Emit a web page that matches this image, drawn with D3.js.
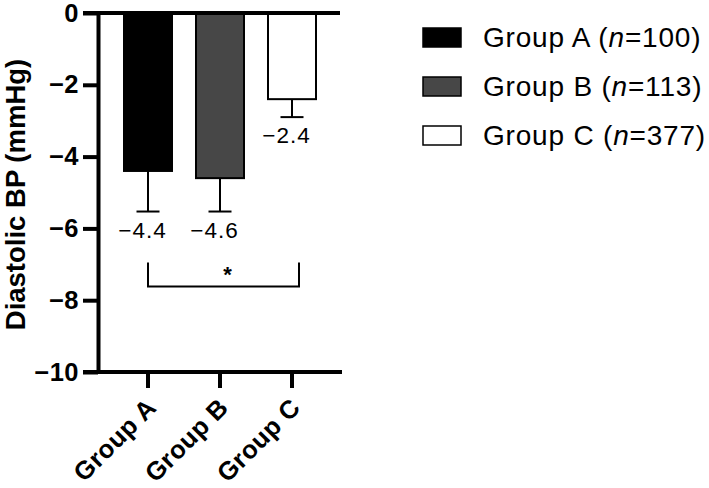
<!DOCTYPE html>
<html>
<head>
<meta charset="utf-8">
<script src="https://cdn.jsdelivr.net/npm/d3@7"></script>
<style>
  body { margin: 0; background: #fff; }
  svg { display: block; }
  text { font-family: "Liberation Sans", Arial, Helvetica, sans-serif; fill: #000; }
</style>
</head>
<body>
<div id="chart"></div>
<script>
const width = 709;
const height = 488;

// data
const groups = ["Group A", "Group B", "Group C"];
const means = [-4.4, -4.6, -2.4];
const errors = [1.13, 0.93, 0.5];
const sizes = [100, 113, 377];
const yTicks = [0, -2, -4, -6, -8, -10];

const colorScale = d3.scaleOrdinal()
    .domain(groups)
    .range(["#000000", "#474747", "#ffffff"]);

const svg = d3.select("#chart")
    .append("svg")
    .attr("width", width)
    .attr("height", height);

// scales
const xScale = d3.scaleBand()
    .domain(groups)
    .range([112, 328])
    .paddingInner(1 / 3)
    .paddingOuter(1 / 6);

const yScale = d3.scaleLinear()
    .domain([-10, 0])
    .range([372, 13]);

const cx = g => xScale(g) + xScale.bandwidth() / 2;
const fmt = d3.format(".1f");

// bars
svg.selectAll("rect.bar")
    .data(groups)
    .join("rect")
    .attr("class", "bar")
    .attr("x", d => xScale(d))
    .attr("y", yScale(0))
    .attr("width", xScale.bandwidth())
    .attr("height", (d, i) => yScale(means[i]) - yScale(0))
    .attr("fill", d => colorScale(d))
    .attr("stroke", "#000")
    .attr("stroke-width", 2);

// error bars (downward only)
const err = svg.append("g").attr("stroke", "#000").attr("stroke-width", 2);
groups.forEach((g, i) => {
    const lo = means[i] - errors[i];
    err.append("line")
        .attr("x1", cx(g)).attr("x2", cx(g))
        .attr("y1", yScale(means[i])).attr("y2", yScale(lo));
    err.append("line")
        .attr("x1", cx(g) - 11.5).attr("x2", cx(g) + 11.5)
        .attr("y1", yScale(lo)).attr("y2", yScale(lo));
});

// value labels
svg.selectAll("text.val")
    .data(groups)
    .join("text")
    .attr("class", "val")
    .attr("x", d => cx(d) - 5.5)
    .attr("y", (d, i) => yScale(means[i] - errors[i]) + 26)
    .attr("text-anchor", "middle")
    .attr("font-size", "22.5px")
    .attr("letter-spacing", "1px")
    .text((d, i) => fmt(means[i]));

// y axis
const yAxis = svg.append("g")
    .attr("transform", "translate(98,0)")
    .call(d3.axisLeft(yScale).tickValues(yTicks).tickSize(15).tickSizeOuter(0).tickPadding(4)
        .tickFormat(d3.format("d")));
yAxis.select(".domain").attr("stroke-width", 4);
yAxis.selectAll(".tick line").attr("stroke-width", 4);
yAxis.selectAll(".tick text")
    .attr("font-size", "25.5px")
    .attr("font-weight", "bold")
    .attr("letter-spacing", "0.5px")
    .attr("font-family", "Liberation Sans, Arial, sans-serif");

// horizontal line at 0 (top)
svg.append("line")
    .attr("x1", 83).attr("x2", 340)
    .attr("y1", yScale(0)).attr("y2", yScale(0))
    .attr("stroke", "#000").attr("stroke-width", 4);

// x axis at -10
const xAxis = svg.append("g")
    .attr("transform", `translate(0,${yScale(-10)})`)
    .call(d3.axisBottom(xScale).tickSize(16).tickSizeOuter(0));
xAxis.select(".domain").remove();
xAxis.append("line")
    .attr("x1", 83).attr("x2", 342)
    .attr("stroke", "#000").attr("stroke-width", 4);
xAxis.selectAll(".tick line").attr("stroke-width", 4);
xAxis.selectAll(".tick text")
    .attr("x", null).attr("y", null).attr("dy", null)
    .attr("transform", "translate(10,37) rotate(-45)")
    .attr("text-anchor", "end")
    .attr("font-size", "25.5px")
    .attr("font-weight", "bold")
    .attr("letter-spacing", "0.5px")
    .attr("font-family", "Liberation Sans, Arial, sans-serif");

// y title
svg.append("text")
    .attr("transform", `translate(25,${(yScale(0) + yScale(-10)) / 2 + 2}) rotate(-90)`)
    .attr("text-anchor", "middle")
    .attr("font-size", "27.5px")
    .attr("font-weight", "bold")
    .text("Diastolic BP (mmHg)");

// significance bracket A vs C
const bTop = yScale(-6.95), bBot = yScale(-7.62);
const bx1 = cx("Group A"), bx2 = cx("Group C") + 7;
svg.append("path")
    .attr("d", `M${bx1},${bTop}V${bBot}H${bx2}V${bTop}`)
    .attr("fill", "none")
    .attr("stroke", "#000")
    .attr("stroke-width", 2);
svg.append("text")
    .attr("x", (bx1 + bx2) / 2 + 4)
    .attr("y", bTop + 19)
    .attr("text-anchor", "middle")
    .attr("font-size", "22px")
    .attr("font-weight", "bold")
    .text("*");

// legend
const legend = svg.append("g").attr("transform", "translate(423,28)");
const entries = legend.selectAll("g")
    .data(groups)
    .join("g")
    .attr("transform", (d, i) => `translate(0,${i * 49})`);
entries.append("rect")
    .attr("width", 38)
    .attr("height", 19)
    .attr("fill", d => colorScale(d))
    .attr("stroke", "#000")
    .attr("stroke-width", 1.5);
const labels = entries.append("text")
    .attr("x", 60)
    .attr("y", 19)
    .attr("font-size", "28px")
    .attr("letter-spacing", "0.8px");
labels.append("tspan").text(d => d + " (");
labels.append("tspan").attr("font-style", "italic").text("n");
labels.append("tspan").text((d, i) => "=" + sizes[i] + ")");
</script>
</body>
</html>
